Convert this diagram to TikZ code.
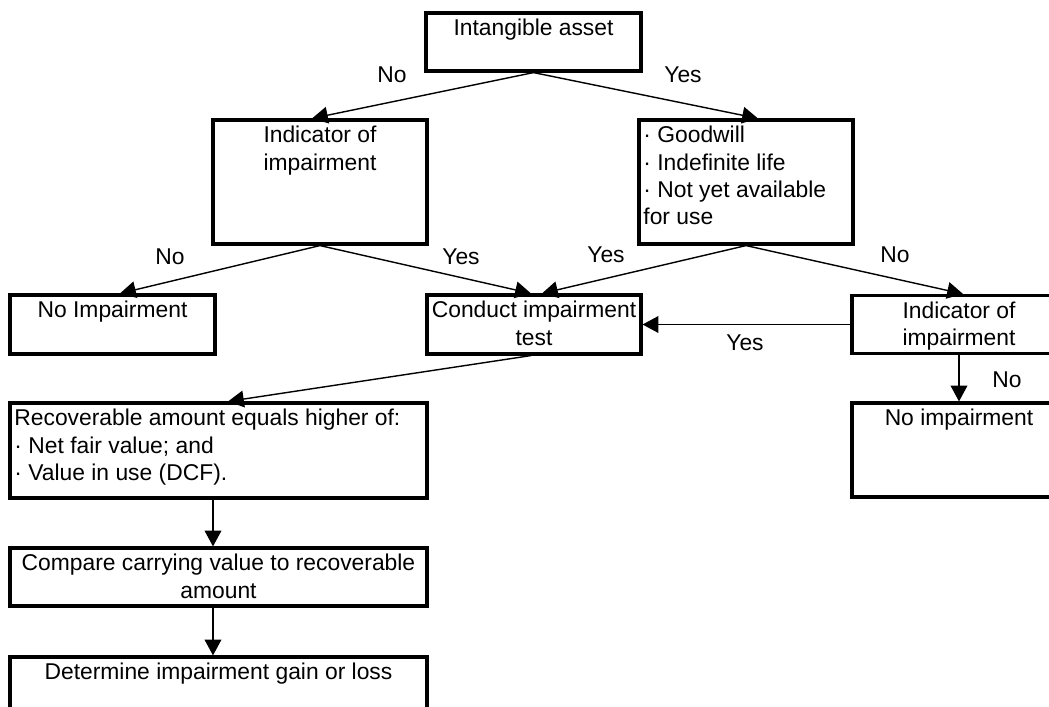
\documentclass[tikz,border=0pt]{standalone}
\usepackage{fontspec}
\setmainfont{Liberation Sans}
\usetikzlibrary{arrows.meta}
\tikzstyle{block} = [rectangle, draw, line width=1.8pt, inner sep=0pt, font=\fontsize{13}{15.6}\selectfont]
\tikzstyle{arrow} = [line width=0.8pt, -{Triangle[length=9pt,width=9.5pt]}]
\tikzstyle{choice} = [font=\fontsize{13}{15.6}\selectfont, inner sep=1pt]
\newcommand{\boxtext}[3]{\parbox[c][#2][t]{#1}{\vspace*{2pt}#3}}

\begin{document}
\begin{tikzpicture}[x=0.02cm, y=-0.02cm]
\useasboundingbox (0,0) rectangle (1049,707);
\clip (0,0) rectangle (1049,707);
\fill[white] (0,0) rectangle (1049,707);

% Nodes
\node (asset) [block] at (533.5,42) {\boxtext{4.3cm}{1.16cm}{\centering\strut Intangible asset}};

\node (indL) [block] at (320,182) {\boxtext{4.28cm}{2.48cm}{\centering\strut Indicator of\\impairment}};

\node (goodw) [block] at (746,182) {\boxtext{4.28cm}{2.48cm}{\raggedright\leftskip=2.5pt\strut
    · Goodwill\\
    · Indefinite life\\
    · Not yet available\\
    for use}};

\node (noimpL) [block] at (112.5,324.5) {\boxtext{4.1cm}{1.18cm}{\centering\strut No Impairment}};

\node (conduct) [block] at (534,324.5) {\boxtext{4.28cm}{1.18cm}{\centering\strut Conduct impairment\\test}};

\node (indR) [block] at (959,324.5) {\boxtext{4.28cm}{1.16cm}{\centering\strut Indicator of\\impairment}};

\node (noimpR) [block] at (959,450) {\boxtext{4.28cm}{1.88cm}{\centering\strut No impairment}};

\node (recov) [block] at (218.5,450.5) {\boxtext{8.34cm}{1.9cm}{\raggedright\leftskip=2.5pt\strut
    Recoverable amount equals higher of:\\
    · Net fair value; and\\
    · Value in use (DCF).}};

\node (compare) [block] at (218.5,577) {\boxtext{8.34cm}{1.16cm}{\centering\strut Compare carrying value to recoverable\\amount}};

\node (determ) [block] at (218.5,687) {\boxtext{8.34cm}{1.2cm}{\centering\strut Determine impairment gain or loss}};

% Labels
\node (no1) [choice] at (392,75) {No};
\node (yes1) [choice] at (683,75) {Yes};
\node (no2) [choice] at (170,257) {No};
\node (yes2) [choice] at (461,257) {Yes};
\node (yes3) [choice] at (606,255) {Yes};
\node (no3) [choice] at (895,255) {No};
\node (yes4) [choice] at (745,343) {Yes};
\node (no4) [choice] at (1007,380) {No};

% Arrows
\draw [arrow] (asset.south) -- ([xshift=-0.16cm]indL.north);
\draw [arrow] (asset.south) -- ([xshift=0.24cm]goodw.north);
\draw [arrow] (indL.south) -- ([xshift=0.15cm]noimpL.north);
\draw [arrow] (indL.south) -- ([xshift=-0.06cm]conduct.north);
\draw [arrow] (goodw.south) -- ([xshift=0.16cm]conduct.north);
\draw [arrow] (goodw.south) -- ([xshift=0.08cm]indR.north);
\draw [arrow] (indR.west) -- (conduct.east);
\draw [arrow] (indR.south) -- (noimpR.north);
\draw [arrow] ([xshift=-0.06cm]conduct.south) -- ([xshift=0.19cm]recov.north);
\draw [arrow] ([xshift=-0.11cm]recov.south) -- ([xshift=-0.11cm]compare.north);
\draw [arrow] ([xshift=-0.11cm]compare.south) -- ([xshift=-0.11cm]determ.north);

\end{tikzpicture}
\end{document}
